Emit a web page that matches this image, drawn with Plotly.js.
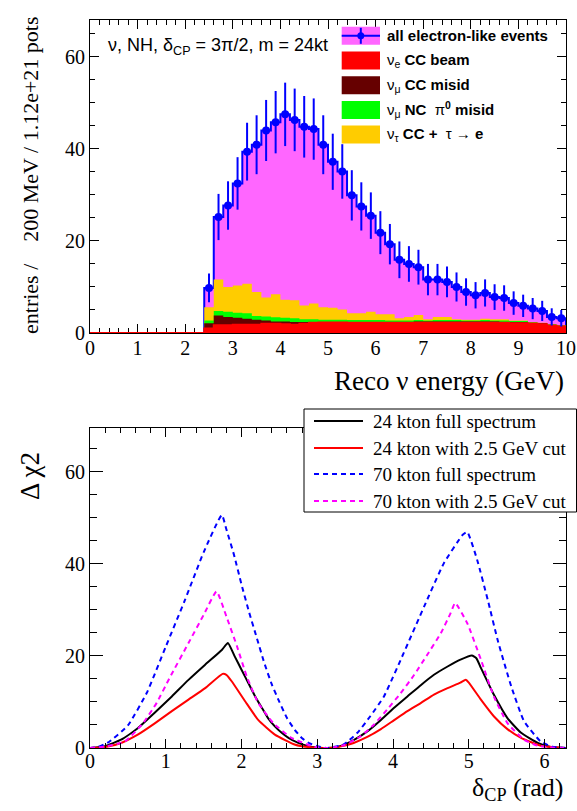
<!DOCTYPE html>
<html><head><meta charset="utf-8">
<script src="https://cdn.plot.ly/plotly-3.0.1.min.js"></script>
<style>html,body{margin:0;padding:0;background:#fff}</style>
</head><body><div id="chart" style="width:577px;height:811px"></div>
<script>
// ---------- top panel: reconstructed energy spectrum (200 MeV bins) ----------
const binEdges = [0.0,0.2,0.4,0.6,0.8,1.0,1.2,1.4,1.6,1.8,2.0,2.2,2.4,2.6,2.8,3.0,3.2,3.4,3.6,3.8,4.0,4.2,4.4,4.6,4.8,5.0,5.2,5.4,5.6,5.8,6.0,6.2,6.4,6.6,6.8,7.0,7.2,7.4,7.6,7.8,8.0,8.2,8.4,8.6,8.8,9.0,9.2,9.4,9.6,9.8,10.0];
const binCenters = [0.1,0.3,0.5,0.7,0.9,1.1,1.3,1.5,1.7,1.9,2.1,2.3,2.5,2.7,2.9,3.1,3.3,3.5,3.7,3.9,4.1,4.3,4.5,4.7,4.9,5.1,5.3,5.5,5.7,5.9,6.1,6.3,6.5,6.7,6.9,7.1,7.3,7.5,7.7,7.9,8.1,8.3,8.5,8.7,8.9,9.1,9.3,9.5,9.7,9.9];
const allEvents = [0,0,0,0,0,0,0,0,0,0,0,0,
  9.8,25.2,27.7,32.5,39.4,40.9,44.0,45.8,47.5,46.3,44.8,44.3,40.9,37.2,35.1,29.9,27.5,25.5,21.8,19.3,15.9,15.0,14.3,11.6,11.6,11.1,10.0,8.9,8.2,8.7,7.8,7.6,6.5,5.9,5.3,4.8,3.5,3.2];
const allEventsErr = [0,0,0,0,0,0,0,0,0,0,0,0,
  3.13,5.02,5.26,5.70,6.28,6.40,6.63,6.77,6.89,6.80,6.69,6.66,6.40,6.10,5.92,5.47,5.24,5.05,4.67,4.39,3.99,3.87,3.78,3.41,3.41,3.33,3.16,2.98,2.86,2.95,2.79,2.76,2.55,2.43,2.30,2.19,1.87,1.79];
const nueCCBeam = [0,0,0,0,0,0,0,0,0,0,0,0,
  1.0,1.7,1.7,1.8,1.8,1.8,2.0,2.0,1.9,1.8,2.0,2.2,2.3,2.3,2.3,2.2,2.2,2.2,2.2,2.2,2.2,2.2,2.2,2.2,2.2,2.2,2.2,2.2,2.2,2.2,2.2,2.2,2.1,2.1,2.0,1.9,1.6,1.4];
const numuCCMisid = [0,0,0,0,0,0,0,0,0,0,0,0,
  1.1,2.1,1.8,1.5,1.3,1.1,0.7,0.5,0.6,0.6,0.4,0.2,0.1,0.1,0.1,0.2,0.2,0.2,0.2,0.2,0.2,0.2,0.3,0.3,0.3,0.3,0.3,0.3,0.3,0.3,0.3,0.2,0.3,0.3,0.2,0.2,0.2,0.2];
const numuNCpi0Misid = [0,0,0,0,0,0,0,0,0,0,0,0,
  0.6,1.0,1.1,1.1,1.2,0.8,0.9,0.9,0.8,0.8,0.6,0.6,0.5,0.5,0.5,0.4,0.4,0.4,0.4,0.3,0.3,0.3,0.3,0.2,0.3,0.3,0.3,0.2,0.2,0.3,0.2,0.3,0.2,0.2,0.1,0.05,0.05,0.05];
const nutauCC = [0,0,0,0,0,0,0,0,0,0,0,0,
  2.9,6.8,5.4,5.9,6.4,5.2,4.1,5.0,3.9,3.9,3.0,3.4,2.7,2.6,2.2,1.5,1.5,1.8,1.3,1.4,0.5,0.8,1.1,0.3,0.7,0.7,0.2,0.2,0.2,0.3,0.3,0.3,0.1,0.1,0.1,0.05,0.05,0.05];

// ---------- bottom panel: delta chi2 vs deltaCP ----------
const full24X = [0,0.2,0.41,0.63,0.85,1.08,1.3,1.52,1.74,1.82,1.91,2.0,2.09,2.18,2.27,2.35,2.44,2.53,2.62,2.75,2.88,3.0,3.14,3.3,3.48,3.66,3.84,4.01,4.19,4.37,4.54,4.72,4.89,5.04,5.1,5.16,5.33,5.51,5.69,5.91,6.08,6.283];
const full24Y = [0,0.4,1.8,4.3,7.6,11.2,14.8,18.1,21.3,22.8,19.9,17.0,14.1,11.2,8.7,6.5,4.7,3.3,2.2,1.1,0.4,0.1,0,0.4,1.7,3.6,6.1,8.7,11.2,13.7,15.9,17.7,19.2,20.1,19.5,17.4,11.6,6.5,3.3,1.1,0.2,0];
const cut24X = [0,0.2,0.41,0.63,0.85,1.08,1.3,1.52,1.75,1.80,1.87,2.05,2.22,2.44,2.71,2.88,3.14,3.3,3.48,3.66,3.84,4.01,4.19,4.37,4.54,4.72,4.89,4.96,5.0,5.16,5.33,5.51,5.69,5.95,6.283];
const cut24Y = [0,0.2,1.1,2.9,5.3,8.0,10.5,13.0,16.1,15.9,14.5,10.1,6.1,2.9,0.7,0.2,0,0.3,1.1,2.4,4.1,6.0,8.0,9.8,11.6,13.0,14.2,14.8,14.2,10.5,6.9,4.1,2.2,0.5,0];
const full70X = [0,0.1,0.25,0.5,0.75,1.0,1.25,1.5,1.74,1.8,1.9,2.0,2.1,2.2,2.3,2.4,2.5,2.6,2.7,2.8,2.9,3.0,3.14,3.35,3.53,3.70,3.88,4.14,4.41,4.67,4.92,4.98,5.11,5.25,5.38,5.56,5.73,5.95,6.1,6.283];
const full70Y = [0,0.2,1.3,4.9,12,22,32,42.5,50.6,47.5,42,35.5,29.5,24,18.5,13.8,10,6.5,4,2.1,1.0,0.4,0,0.8,3.3,6.9,11.2,20.6,30.7,40.1,46.3,46.9,40.9,32.2,23.5,13.4,5.8,1.4,0.3,0];
const cut70X = [0,0.2,0.46,0.70,0.88,1.05,1.30,1.5,1.67,1.80,1.94,2.07,2.22,2.42,2.66,2.97,3.14,3.35,3.57,3.75,3.92,4.10,4.28,4.45,4.63,4.76,4.82,4.98,5.16,5.33,5.51,5.73,5.91,6.1,6.283];
const cut70Y = [0,0.3,1.4,5.4,9.8,15.2,22.8,28.9,34.0,28.6,22.1,15.5,9.8,5.4,2.2,0.2,0,0.6,2.5,5.1,8.3,11.9,15.9,20.2,24.9,29.3,31.5,27.1,19.2,11.2,5.4,1.8,0.5,0.1,0];

const topLegendLabels = ['<b>all electron-like events</b>',
  'ν<sub>e</sub> <b>CC beam</b>',
  'ν<sub>μ</sub> <b>CC misid</b>',
  'ν<sub>μ</sub> <b>NC</b>\u00A0\u00A0π<sup><b>0</b></sup> <b>misid</b>',
  'ν<sub>τ</sub> <b>CC +</b>\u00A0\u00A0τ \u2192 <b>e</b>'];
const bottomLegendLabels = ['24 kton full spectrum','24 kton with 2.5 GeV cut','70 kton full spectrum','70 kton with 2.5 GeV cut'];

// ---------- helpers ----------
const X0=90, X1=566, Y0=20, Y1=748;
const px = x => (x - X0)/(X1 - X0);
const py = y => (Y1 - y)/(Y1 - Y0);
const SERIF = 'Liberation Serif, Times New Roman, serif';
const SANS = 'Liberation Sans, Arial, sans-serif';

function cumulative(...arrs){ return arrs[0].map((_, i) => arrs.reduce((s, a) => s + a[i], 0)); }
function stepTrace(vals, color, lineColor, lineWidth){
  return {x: binEdges, y: vals.concat([vals[vals.length-1]]), type:'scatter', mode:'lines',
    line:{shape:'hv', color: lineColor || color, width: lineWidth || 0}, fill:'tozeroy', fillcolor: color,
    xaxis:'x', yaxis:'y', hoverinfo:'skip', showlegend:false};
}
const c1 = nueCCBeam;
const c2 = cumulative(nueCCBeam, numuCCMisid);
const c3 = cumulative(nueCCBeam, numuCCMisid, numuNCpi0Misid);
const c4 = cumulative(nueCCBeam, numuCCMisid, numuNCpi0Misid, nutauCC);

// total histogram outline (from first non-empty bin)
const first = allEvents.findIndex(v => v > 0);
const totX = [binEdges[first]], totY = [0];
for (let i = first; i < allEvents.length; i++){ totX.push(binEdges[i]); totY.push(allEvents[i]); }
totX.push(binEdges[binEdges.length-1]); totY.push(allEvents[allEvents.length-1]);
totX.push(binEdges[binEdges.length-1]); totY.push(0);

const mX=[], mY=[], mE=[];
allEvents.forEach((v,i)=>{ if(v>0){ mX.push(binCenters[i]); mY.push(v); mE.push(allEventsErr[i]); } });

const curveLine = (color, dash) => ({color, width:2, shape:'spline', smoothing:0.45, dash: dash || 'solid'});
const traces = [
  {x: totX, y: totY, type:'scatter', mode:'lines', line:{shape:'hv', color:'#0000ff', width:2},
   fill:'tozeroy', fillcolor:'#ff66ff', xaxis:'x', yaxis:'y', showlegend:false, hoverinfo:'skip'},
  stepTrace(c4, '#ffcc00'),
  stepTrace(c3, '#00ff00'),
  stepTrace(c2, '#660000'),
  stepTrace(c1, '#ff0000', '#ff0000', 2),
  {x: mX, y: mY, type:'scatter', mode:'markers', marker:{color:'#0000ff', size:8},
   error_y:{type:'data', array:mE, visible:true, color:'#0000ff', thickness:2, width:0},
   xaxis:'x', yaxis:'y', showlegend:false, cliponaxis:false},
  {x: full24X, y: full24Y, type:'scatter', mode:'lines', line:curveLine('#000000'), xaxis:'x2', yaxis:'y2', name:bottomLegendLabels[0], showlegend:false},
  {x: cut24X, y: cut24Y, type:'scatter', mode:'lines', line:curveLine('#ff0000'), xaxis:'x2', yaxis:'y2', name:bottomLegendLabels[1], showlegend:false},
  {x: full70X, y: full70Y, type:'scatter', mode:'lines', line:curveLine('#0000ff','5px,4px'), xaxis:'x2', yaxis:'y2', name:bottomLegendLabels[2], showlegend:false},
  {x: cut70X, y: cut70Y, type:'scatter', mode:'lines', line:curveLine('#ff00ff','5px,4px'), xaxis:'x2', yaxis:'y2', name:bottomLegendLabels[3], showlegend:false}
];

function axisBase(extra){
  return Object.assign({showline:true, linecolor:'#000', linewidth:1, mirror:'allticks', ticks:'inside',
    tickcolor:'#000', tickwidth:1, showgrid:false, zeroline:false,
    tickfont:{family:SERIF, size:20, color:'#000'}}, extra);
}

const layout = {
  width:577, height:811, margin:{l:90, r:11, t:20, b:63},
  paper_bgcolor:'#fff', plot_bgcolor:'#fff', showlegend:false,
  font:{family:SERIF, color:'#000'},
  xaxis: axisBase({domain:[0,1], anchor:'y', range:[0,10], dtick:1, tick0:0, ticklen:9,
    minor:{dtick:0.2, ticks:'inside', ticklen:5, tickcolor:'#000'}, layer:'below traces', ticklabelstandoff:-3}),
  yaxis: axisBase({domain:[py(333),1], anchor:'x', range:[0,68], dtick:20, tick0:0, ticklen:9,
    minor:{dtick:5, ticks:'inside', ticklen:5, tickcolor:'#000'}, layer:'below traces'}),
  xaxis2: axisBase({domain:[0,1], anchor:'y2', range:[0,2*Math.PI], dtick:1, tick0:0, ticklen:9,
    minor:{dtick:0.2, ticks:'inside', ticklen:5, tickcolor:'#000'}, ticklabelstandoff:-5}),
  yaxis2: axisBase({domain:[0,py(428)], anchor:'x2', range:[0,69.5], dtick:20, tick0:0, ticklen:13,
    minor:{dtick:5, ticks:'inside', ticklen:7, tickcolor:'#000'}}),
  shapes: [], annotations: []
};

// axis titles & text
const ann = layout.annotations;
ann.push({text:'Reco ν energy (GeV)', xref:'paper', yref:'paper', x:1, y:py(381), xanchor:'right', yanchor:'middle',
  showarrow:false, font:{family:SERIF, size:27, color:'#000'}});
ann.push({text:'entries /\u00A0\u00A0\u00A0\u00A0200 MeV / 1.12e+21 pots', xref:'paper', yref:'paper', x:px(30), y:py(175),
  xanchor:'center', yanchor:'middle', textangle:-90, showarrow:false, font:{family:SERIF, size:22, color:'#000'}});
ann.push({text:'ν, NH, δ<sub>CP</sub> = 3π/2, m = 24kt', xref:'paper', yref:'paper', x:px(106), y:py(47),
  xanchor:'left', yanchor:'middle', showarrow:false, font:{family:SANS, size:18, color:'#000'}});
ann.push({text:'δ<sub>CP</sub> (rad)', xref:'paper', yref:'paper', x:1, y:py(789), xanchor:'right', yanchor:'middle',
  showarrow:false, font:{family:SERIF, size:26, color:'#000'}});
ann.push({text:'Δ χ2', xref:'paper', yref:'paper', x:px(30), y:py(476), xanchor:'center', yanchor:'middle',
  textangle:-90, showarrow:false, font:{family:SERIF, size:27, color:'#000'}});

// top legend
const topCenters = [35.8, 60.5, 85.2, 109.9, 134.6];
const topColors = ['#ff66ff','#ff0000','#660000','#00ff00','#ffcc00'];
topCenters.forEach((cy, i) => {
  layout.shapes.push({type:'rect', xref:'paper', yref:'paper', x0:px(341.7), x1:px(380), y0:py(cy+9), y1:py(cy-9),
    fillcolor:topColors[i], line:{width:0}, layer:'above'});
  ann.push({text:topLegendLabels[i], xref:'paper', yref:'paper', x:px(385), y:py(cy), xanchor:'left', yanchor:'middle',
    showarrow:false, font:{family:SANS, size:15, color:'#000'}});
});
layout.shapes.push({type:'line', xref:'paper', yref:'paper', x0:px(341.7), x1:px(380), y0:py(topCenters[0]), y1:py(topCenters[0]),
  line:{color:'#0000ff', width:2}, layer:'above'});
layout.shapes.push({type:'line', xref:'paper', yref:'paper', x0:px(360.8), x1:px(360.8), y0:py(topCenters[0]+8), y1:py(topCenters[0]-8),
  line:{color:'#0000ff', width:2}, layer:'above'});
layout.shapes.push({type:'circle', xref:'paper', yref:'paper', x0:px(357.3), x1:px(364.3), y0:py(topCenters[0]+3.5), y1:py(topCenters[0]-3.5),
  fillcolor:'#0000ff', line:{width:0}, layer:'above'});

// bottom legend
layout.shapes.push({type:'rect', xref:'paper', yref:'paper', x0:px(304), x1:px(576.5), y0:py(512), y1:py(409),
  fillcolor:'#ffffff', line:{color:'#000', width:1}, layer:'above'});
const botCenters = [421, 448, 474, 501];
const botStyles = [{color:'#000000', width:2},{color:'#ff0000', width:2},{color:'#0000ff', width:2, dash:'5px,4px'},{color:'#ff00ff', width:2, dash:'5px,4px'}];
botCenters.forEach((cy, i) => {
  layout.shapes.push({type:'line', xref:'paper', yref:'paper', x0:px(314), x1:px(363), y0:py(cy), y1:py(cy), line:botStyles[i], layer:'above'});
  ann.push({text:bottomLegendLabels[i], xref:'paper', yref:'paper', x:px(371), y:py(cy), xanchor:'left', yanchor:'middle',
    showarrow:false, font:{family:SERIF, size:19, color:'#000'}});
});

Plotly.newPlot('chart', traces, layout, {staticPlot:true, displayModeBar:false});
</script></body></html>
